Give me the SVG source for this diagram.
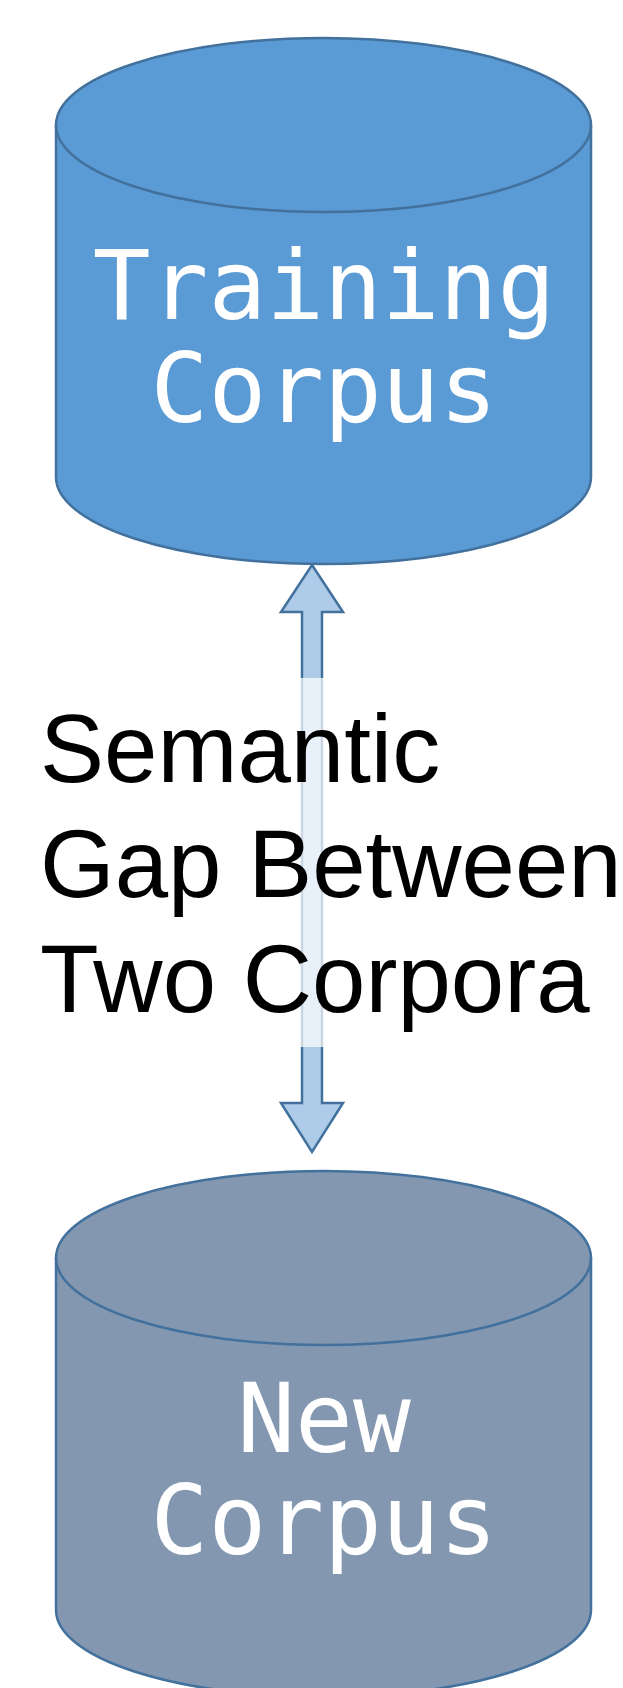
<svg xmlns="http://www.w3.org/2000/svg" width="623" height="1688" viewBox="0 0 623 1688">
<style>
.cyl{stroke:#41719c;stroke-width:2.5}
.lbl{font-family:"DejaVu Sans Mono",monospace;font-size:96px;fill:#ffffff;text-anchor:middle}
.gap{font-family:"Liberation Sans",Arial,sans-serif;font-size:96px;fill:#000000}
</style>
<rect width="623" height="1688" fill="#ffffff"/>
<g id="connectors">
<polygon points="312,565 343,612 322,612 322,1103 343,1103 312,1152 281,1103 302,1103 302,612 281,612" fill="#aecbe9" stroke="#41719c" stroke-width="2.5" stroke-linejoin="miter"/>
<rect x="40" y="678" width="583" height="369" fill="#ffffff" fill-opacity="0.72"/>
</g>
<g id="training-corpus">
<path class="cyl" fill="#5b9bd5" d="M56,125 A267.5,87 0 0 1 591,125 L591,477 A267.5,87 0 0 1 56,477 Z"/>
<path class="cyl" fill="none" d="M56,125 A267.5,87 0 0 0 591,125"/>
<text class="lbl" x="324" y="319">Training</text>
<text class="lbl" x="324" y="422">Corpus</text>
</g>
<g id="gap-label">
<text class="gap" x="40" y="782">Semantic</text>
<text class="gap" x="40" y="897">Gap Between</text>
<text class="gap" x="40" y="1012">Two Corpora</text>
</g>
<g id="new-corpus">
<path class="cyl" fill="#8497b0" d="M56,1258 A267.5,87 0 0 1 591,1258 L591,1610 A267.5,87 0 0 1 56,1610 Z"/>
<path class="cyl" fill="none" d="M56,1258 A267.5,87 0 0 0 591,1258"/>
<text class="lbl" x="324" y="1452">New</text>
<text class="lbl" x="324" y="1554">Corpus</text>
</g>
</svg>
